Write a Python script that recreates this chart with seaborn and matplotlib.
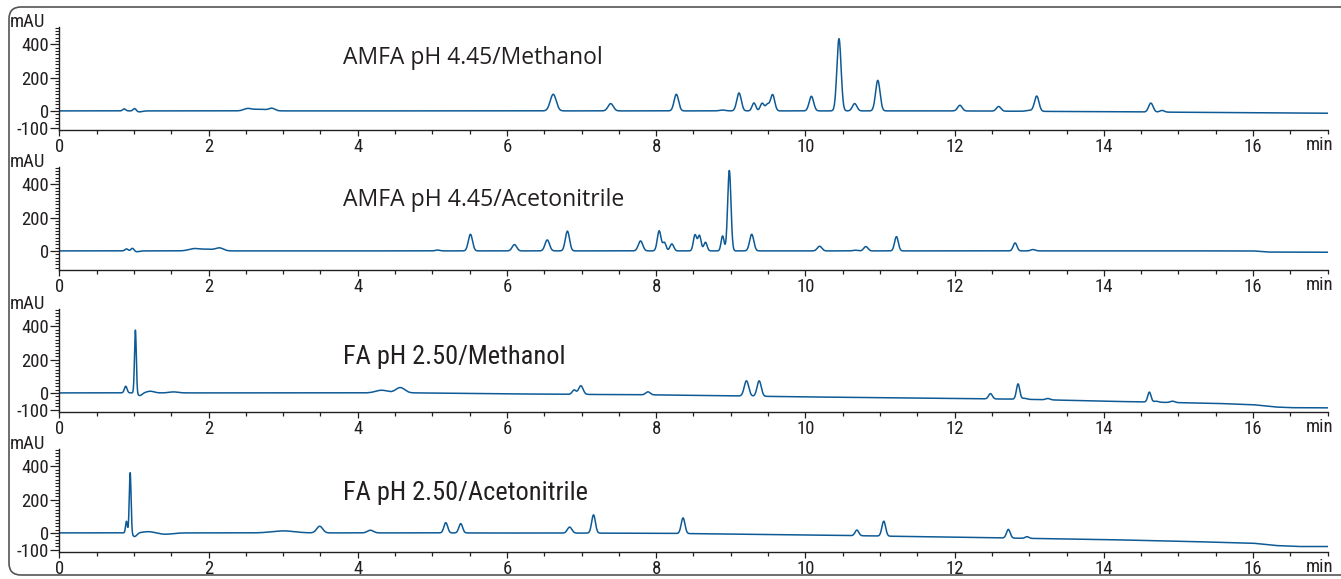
"""Four stacked UV chromatograms: AMFA vs FA mobile phases, methanol vs acetonitrile."""

import numpy as np
import pandas as pd
import seaborn as sns
import matplotlib.pyplot as plt
from matplotlib.patches import FancyBboxPatch
from matplotlib.ticker import MultipleLocator, FixedLocator
from matplotlib.transforms import IdentityTransform

# -----------------------------------------------------------------------------
# Peaks: retention time (min), height (mAU), sigma (min)

amfa_meoh_rt = [0.87, 1.01, 1.07, 2.52, 2.68, 2.85, 6.62, 7.39, 8.27, 8.89, 9.11, 9.31, 9.42,
                9.49, 9.56, 10.08, 10.45, 10.66, 10.97, 12.07, 12.59, 13.00, 13.10, 14.63, 14.78]
amfa_meoh_height = [12, 16, -6, 12, 10, 14, 100, 44, 100, 5, 108, 48, 46,
                    38, 98, 88, 435, 44, 184, 34, 28, 6, 92, 54, 10]
amfa_meoh_sigma = [0.02, 0.02, 0.04, 0.05, 0.10, 0.04, 0.04, 0.035, 0.03, 0.04, 0.03, 0.025, 0.025,
                   0.025, 0.028, 0.03, 0.028, 0.03, 0.03, 0.03, 0.03, 0.04, 0.03, 0.03, 0.03]
amfa_meoh_base_t = [0, 12, 14, 17]
amfa_meoh_base_mau = [0, 0, -5, -14]

amfa_acn_rt = [0.90, 0.98, 1.04, 1.80, 1.98, 2.15, 5.07, 5.51, 6.10, 6.54, 6.81, 7.79, 8.04, 8.11,
               8.21, 8.52, 8.58, 8.66, 8.89, 8.98, 9.28, 10.19, 10.67, 10.81, 11.22, 12.81, 13.05]
amfa_acn_height = [12, 16, -5, 12, 10, 16, 5, 100, 38, 66, 119, 60, 121, 50,
                   42, 96, 92, 52, 90, 484, 100, 28, 4, 26, 86, 48, 8]
amfa_acn_sigma = [0.02, 0.02, 0.03, 0.07, 0.10, 0.05, 0.03, 0.028, 0.03, 0.03, 0.028, 0.03, 0.025, 0.022,
                  0.025, 0.022, 0.022, 0.022, 0.02, 0.022, 0.028, 0.03, 0.03, 0.028, 0.025, 0.025, 0.03]
amfa_acn_base_t = [0, 16, 16.2, 17]
amfa_acn_base_mau = [0, 0, -7, -8]

fa_meoh_rt = [0.89, 1.02, 1.08, 1.22, 1.53, 4.32, 4.57, 6.90, 6.99, 7.89, 9.21, 9.38,
              12.48, 12.85, 12.93, 13.25, 14.61, 14.70, 14.92]
fa_meoh_height = [40, 380, -16, 10, 6, 16, 32, 26, 52, 18, 92, 93,
                  32, 92, 6, 8, 60, 6, 8]
fa_meoh_sigma = [0.018, 0.012, 0.03, 0.05, 0.06, 0.08, 0.06, 0.025, 0.03, 0.03, 0.03, 0.028,
                 0.025, 0.022, 0.03, 0.03, 0.022, 0.03, 0.03]
fa_meoh_base_t = [0, 4.8, 6, 8, 10, 12, 12.9, 14, 15.5, 16.0, 16.3, 16.5, 17]
fa_meoh_base_mau = [0, 0, -6, -12, -24, -34, -38, -50, -63, -71, -85, -89, -90]

fa_acn_rt = [0.90, 0.95, 1.01, 1.20, 1.42, 3.00, 3.49, 4.17, 5.18, 5.38, 6.84, 7.16,
             8.36, 10.69, 11.05, 12.72, 12.97]
fa_acn_height = [70, 365, -22, 8, -8, 12, 40, 16, 62, 56, 36, 110,
                 94, 34, 90, 52, 10]
fa_acn_sigma = [0.012, 0.012, 0.03, 0.08, 0.10, 0.15, 0.04, 0.04, 0.025, 0.025, 0.03, 0.025,
                0.025, 0.025, 0.025, 0.025, 0.025]
fa_acn_base_t = [0, 5, 8, 10, 12, 14, 15, 16, 16.3, 16.6, 17]
fa_acn_base_mau = [0, 0, -2, -12, -26, -40, -50, -62, -76, -82, -82]

panel_titles = ['AMFA pH 4.45/Methanol', 'AMFA pH 4.45/Acetonitrile',
                'FA pH 2.50/Methanol', 'FA pH 2.50/Acetonitrile']

# -----------------------------------------------------------------------------

def trace(rt, height, sigma, base_t, base_mau, time):
    y = np.interp(time, base_t, base_mau)
    for r, h, s in zip(rt, height, sigma):
        y = y + h * np.exp(-0.5 * ((time - r) / s) ** 2)
    return y


time = np.arange(0, 17.0001, 0.0025)
runs = [
    (amfa_meoh_rt, amfa_meoh_height, amfa_meoh_sigma, amfa_meoh_base_t, amfa_meoh_base_mau),
    (amfa_acn_rt, amfa_acn_height, amfa_acn_sigma, amfa_acn_base_t, amfa_acn_base_mau),
    (fa_meoh_rt, fa_meoh_height, fa_meoh_sigma, fa_meoh_base_t, fa_meoh_base_mau),
    (fa_acn_rt, fa_acn_height, fa_acn_sigma, fa_acn_base_t, fa_acn_base_mau),
]
df = pd.concat([
    pd.DataFrame({'time': time, 'mAU': trace(*run, time), 'run': title})
    for run, title in zip(runs, panel_titles)
])

# -----------------------------------------------------------------------------

sns.set_theme(style='ticks')
narrow = ['Roboto Condensed', 'Liberation Sans Narrow', 'IBM Plex Sans Condensed', 'DejaVu Sans']
wide = ['Open Sans', 'DejaVu Sans']
plt.rcParams['font.family'] = narrow
plt.rcParams['axes.unicode_minus'] = False

W, H = 1341, 579
fig = plt.figure(figsize=(W / 100, H / 100), dpi=100)

line_color = '#0d5a96'
ink = '#231f20'
lab = 13.5
left_px, right_px = 59.3, 1327.7
top_px = [27, 167, 309, 449]
height_px = 103
title_y = [320, 308, 214, 240]
title_fonts = [wide, wide, narrow, narrow]
title_sizes = [16.5, 16.6, 19, 19]
ylabels = [[-100, 0, 200, 400], [0, 200, 400], [-100, 0, 200, 400], [-100, 0, 200, 400]]

for i, title in enumerate(panel_titles):
    ax = fig.add_axes([left_px / W, 1 - (top_px[i] + height_px) / H,
                       (right_px - left_px) / W, height_px / H])
    sns.lineplot(data=df[df.run == title], x='time', y='mAU', ax=ax,
                 color=line_color, linewidth=1.1, estimator=None)
    ax.set_xlim(0, 17)
    ax.set_ylim(-115, 505)
    ax.set_xlabel('')
    ax.set_ylabel('')
    sns.despine(ax=ax)
    for side in ['left', 'bottom']:
        ax.spines[side].set_color(ink)
        ax.spines[side].set_linewidth(1.0)
    ax.set_facecolor('none')

    ax.xaxis.set_major_locator(FixedLocator(range(0, 17, 2)))
    ax.xaxis.set_minor_locator(MultipleLocator(0.5))
    ax.yaxis.set_major_locator(FixedLocator(ylabels[i]))
    ax.yaxis.set_minor_locator(MultipleLocator(20))
    ax.tick_params(axis='x', which='major', length=4, width=0.9, color=ink,
                   labelsize=lab, labelcolor=ink, pad=1.5)
    ax.tick_params(axis='x', which='minor', length=3, width=0.9, color=ink)
    ax.tick_params(axis='y', which='major', length=6.5, width=0.9, color=ink,
                   labelsize=lab, labelcolor=ink, pad=1)
    ax.tick_params(axis='y', which='minor', length=3, width=0.8, color=ink)

    ax.text(3.8, title_y[i], title, fontsize=title_sizes[i], family=title_fonts[i],
            color=ink, ha='left', va='center')
    ax.text(17.07, -0.15, 'min', transform=ax.get_xaxis_transform(),
            fontsize=lab, color=ink, ha='right', va='center')
    fig.text(10 / W, 1 - (top_px[i] - 5) / H, 'mAU', fontsize=lab, color=ink,
             ha='left', va='center')

# Rounded frame running off the right edge
frame = FancyBboxPatch((9, 4), 1360, 568, boxstyle='round,pad=0,rounding_size=12',
                       transform=IdentityTransform(), facecolor='none',
                       edgecolor='#555555', linewidth=1.2)
fig.add_artist(frame)

fig.savefig('out.png', dpi=100)
